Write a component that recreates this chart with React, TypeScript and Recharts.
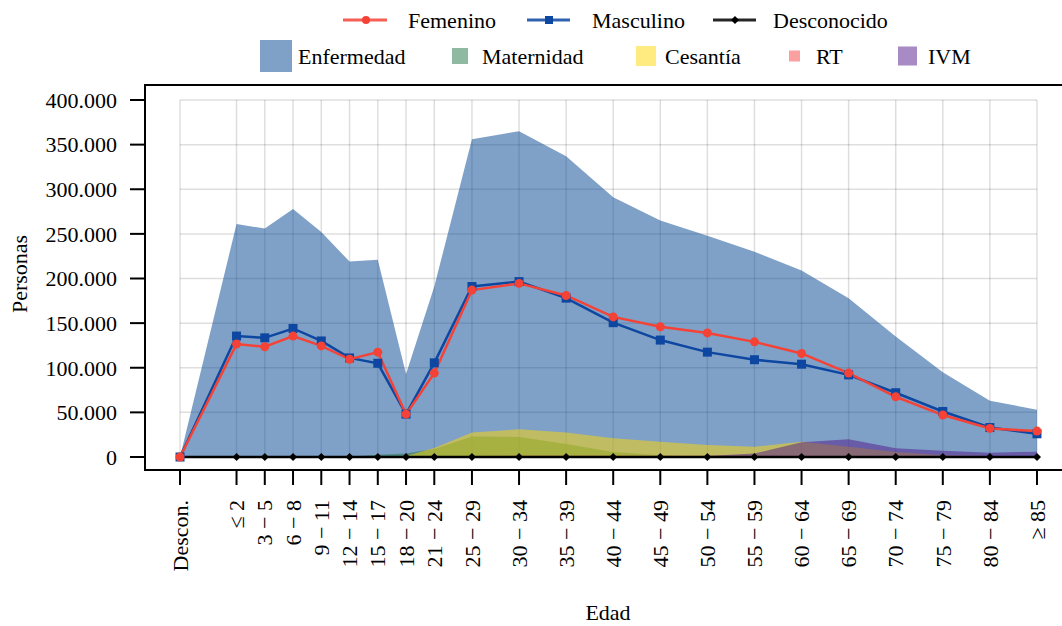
import React from 'react';
import {
  ComposedChart,
  Area,
  Line,
  XAxis,
  YAxis,
  ReferenceLine,
  ReferenceArea,
  Legend,
} from 'recharts';

// edad: posición en el eje (años), "Descon." va a la izquierda
const ageX = [-6, 0, 3, 6, 9, 12, 15, 18, 21, 25, 30, 35, 40, 45, 50, 55, 60, 65, 70, 75, 80, 85];
const ageLabels = [
  'Descon.', '≤ 2', '3 − 5', '6 − 8', '9 − 11', '12 − 14', '15 − 17', '18 − 20', '21 − 24',
  '25 − 29', '30 − 34', '35 − 39', '40 − 44', '45 − 49', '50 − 54', '55 − 59', '60 − 64',
  '65 − 69', '70 − 74', '75 − 79', '80 − 84', '≥ 85',
];

const enfermedad = [0, 261000, 256000, 278000, 252000, 219000, 221000, 93000, 191000, 356000, 365000, 337000, 291000, 265000, 248000, 230000, 209000, 178000, 135000, 95000, 63000, 53000];
const maternidad = [0, 0, 0, 0, 0, 500, 2500, 4000, 9000, 23000, 22500, 14500, 5500, 2000, 500, 0, 0, 0, 0, 0, 0, 0];
const cesantia = [0, 0, 0, 0, 0, 0, 0, 1000, 10000, 27500, 31000, 27500, 21000, 17000, 13500, 11500, 17000, 11500, 5500, 2000, 1000, 1000];
const rt = [0, 0, 0, 0, 0, 0, 0, 300, 800, 1200, 1500, 1500, 1500, 1500, 1500, 1500, 1200, 600, 300, 0, 0, 0];
const ivm = [0, 0, 0, 0, 0, 0, 0, 0, 0, 0, 0, 0, 0, 200, 1000, 4000, 16500, 20000, 9700, 7000, 4800, 6000];

const femenino = [0, 126500, 123500, 135500, 124500, 109500, 117500, 48000, 94000, 187000, 194500, 181000, 157000, 146000, 139000, 129000, 116000, 94000, 67500, 47000, 32000, 29000];
const masculino = [0, 135500, 133500, 144000, 130000, 111000, 105000, 48000, 105500, 191000, 196500, 178000, 150500, 131000, 117500, 109000, 104000, 92000, 72000, 51000, 33000, 26000];
const desconocido = [0, 0, 0, 0, 0, 0, 0, 0, 0, 0, 0, 0, 0, 0, 0, 0, 0, 0, 0, 0, 0, 0];

const yTicks = [0, 50000, 100000, 150000, 200000, 250000, 300000, 350000, 400000];

const X_DOMAIN: [number, number] = [-9.72, 88.72];
const Y_DOMAIN: [number, number] = [-14566, 416807];

const FONT = "'Liberation Serif', 'Times New Roman', serif";
const RED = '#f44336';
const BLUE = '#0d47a1';
const AREA_ALPHA = 0.5;
const C_ENF = '#00438f';
const C_MAT = '#1f7341';
const C_CES = '#ffd700';
const C_RT = '#f54141';
const C_IVM = '#511589';

const data = ageX.map((x, i) => ({
  x,
  enfermedad: enfermedad[i],
  maternidad: maternidad[i],
  cesantia: cesantia[i],
  rt: rt[i],
  ivm: ivm[i],
  femenino: femenino[i],
  masculino: masculino[i],
  desconocido: desconocido[i],
}));

const fmtThousands = (v: number) => String(v).replace(/\B(?=(\d{3})+(?!\d))/g, '.');

function AgeTick({ x, y, payload }: any) {
  const idx = ageX.indexOf(payload.value);
  return (
    <text
      transform={`translate(${x},${y}) rotate(-90)`}
      textAnchor="end"
      dy="0.35em"
      fontSize={22}
      fill="#000"
      fontFamily={FONT}
    >
      {ageLabels[idx]}
    </text>
  );
}

function ChartLegend() {
  const txt = { fontSize: 22, fontFamily: FONT, fill: '#000' };
  const patch = (cx: number, size: number, color: string) => (
    <rect x={cx - size / 2} y={56 - size / 2} width={size} height={size} fill={color} fillOpacity={AREA_ALPHA} />
  );
  return (
    <svg width={1062} height={80} style={{ display: 'block' }}>
      <line x1={343} x2={387} y1={20} y2={20} stroke={RED} strokeWidth={3} strokeOpacity={0.85} />
      <circle cx={366} cy={20} r={4} fill={RED} />
      <text x={408} y={28} {...txt}>Femenino</text>
      <line x1={527} x2={570} y1={20} y2={20} stroke={BLUE} strokeWidth={3} strokeOpacity={0.85} />
      <rect x={545} y={16} width={8} height={8} fill={BLUE} />
      <text x={592} y={28} {...txt}>Masculino</text>
      <line x1={713} x2={756} y1={20} y2={20} stroke="#000" strokeWidth={3} strokeOpacity={0.85} />
      <polygon points="735,16 739,20 735,24 731,20" fill="#000" />
      <text x={773} y={28} {...txt}>Desconocido</text>

      {patch(276, 32, C_ENF)}
      <text x={298} y={64} {...txt}>Enfermedad</text>
      {patch(460, 16, C_MAT)}
      <text x={482} y={64} {...txt}>Maternidad</text>
      {patch(646, 20, C_CES)}
      <text x={665} y={64} {...txt}>Cesantía</text>
      {patch(794.5, 11, C_RT)}
      <text x={816} y={64} {...txt}>RT</text>
      {patch(907.5, 19, C_IVM)}
      <text x={928} y={64} {...txt}>IVM</text>
    </svg>
  );
}

export default function App() {
  return (
    <div
      style={{
        position: 'absolute',
        left: 0,
        top: 0,
        width: 1062,
        height: 626,
        overflow: 'hidden',
        background: '#fff',
        fontFamily: FONT,
      }}
    >
      <ComposedChart
        width={1080}
        height={626}
        data={data}
        margin={{ top: 85, right: 8, bottom: 0, left: 0 }}
      >
        {/* rejilla solo sobre el rango de datos; negro translúcido para que se vea igual bajo o sobre las áreas */}
        {yTicks.map((v) => (
          <ReferenceLine
            key={`gy-${v}`}
            segment={[{ x: ageX[0], y: v }, { x: ageX[ageX.length - 1], y: v }]}
            stroke="#000"
            strokeOpacity={0.13}
            strokeWidth={1.5}
            zIndex={-100}
          />
        ))}
        {ageX.map((t) => (
          <ReferenceLine
            key={`gx-${t}`}
            segment={[{ x: t, y: 0 }, { x: t, y: yTicks[yTicks.length - 1] }]}
            stroke="#000"
            strokeOpacity={0.13}
            strokeWidth={1.5}
            zIndex={-100}
          />
        ))}

        <XAxis
          type="number"
          dataKey="x"
          domain={X_DOMAIN}
          allowDataOverflow
          ticks={ageX}
          interval={0}
          height={156}
          axisLine={false}
          tickLine={{ stroke: '#000', strokeWidth: 2 }}
          tickSize={15}
          tickMargin={15}
          tick={<AgeTick />}
          label={{
            content: () => (
              <text x={608} y={620} textAnchor="middle" fontSize={22} fontFamily={FONT} fill="#000">
                Edad
              </text>
            ),
          }}
        />
        <YAxis
          type="number"
          domain={Y_DOMAIN}
          allowDataOverflow
          ticks={yTicks}
          interval={0}
          width={145}
          axisLine={false}
          tickLine={{ stroke: '#000', strokeWidth: 2 }}
          tickSize={15}
          tickMargin={13}
          tickFormatter={fmtThousands}
          tick={{ fontSize: 22, fill: '#000', fontFamily: FONT }}
          label={{
            content: () => (
              <text
                transform="translate(27,274) rotate(-90)"
                textAnchor="middle"
                fontSize={22}
                fontFamily={FONT}
                fill="#000"
              >
                Personas
              </text>
            ),
          }}
        />

        <Legend
          layout="horizontal"
          verticalAlign="middle"
          align="center"
          wrapperStyle={{ top: 0, left: 0, width: 1062, height: 80 }}
          content={() => <ChartLegend />}
        />

        <Area type="linear" dataKey="enfermedad" baseValue={0} stroke="none" fill={C_ENF} fillOpacity={AREA_ALPHA} isAnimationActive={false} activeDot={false} />
        <Area type="linear" dataKey="maternidad" baseValue={0} stroke="none" fill={C_MAT} fillOpacity={AREA_ALPHA} isAnimationActive={false} activeDot={false} />
        <Area type="linear" dataKey="cesantia" baseValue={0} stroke="none" fill={C_CES} fillOpacity={AREA_ALPHA} isAnimationActive={false} activeDot={false} />
        <Area type="linear" dataKey="rt" baseValue={0} stroke="none" fill={C_RT} fillOpacity={AREA_ALPHA} isAnimationActive={false} activeDot={false} />
        <Area type="linear" dataKey="ivm" baseValue={0} stroke="none" fill={C_IVM} fillOpacity={AREA_ALPHA} isAnimationActive={false} activeDot={false} />

        <Line
          type="linear"
          dataKey="desconocido"
          stroke="#000"
          strokeWidth={2.5}
          isAnimationActive={false}
          activeDot={false}
          dot={(p: any) => (
            <polygon
              key={`d-${p.index}`}
              points={`${p.cx},${p.cy - 4} ${p.cx + 4},${p.cy} ${p.cx},${p.cy + 4} ${p.cx - 4},${p.cy}`}
              fill="#000"
            />
          )}
        />
        <Line
          type="linear"
          dataKey="masculino"
          stroke={BLUE}
          strokeWidth={2.5}
          isAnimationActive={false}
          activeDot={false}
          dot={(p: any) => (
            <rect key={`m-${p.index}`} x={p.cx - 4.5} y={p.cy - 4.5} width={9} height={9} fill={BLUE} />
          )}
        />
        <Line
          type="linear"
          dataKey="femenino"
          stroke={RED}
          strokeWidth={2.5}
          isAnimationActive={false}
          activeDot={false}
          dot={{ r: 4.5, fill: RED, stroke: RED, strokeWidth: 0 }}
        />

        <ReferenceArea
          x1={X_DOMAIN[0]}
          x2={X_DOMAIN[1]}
          y1={Y_DOMAIN[0]}
          y2={Y_DOMAIN[1]}
          fill="none"
          stroke="#000"
          strokeWidth={2}
          ifOverflow="visible"
        />
      </ComposedChart>
    </div>
  );
}
